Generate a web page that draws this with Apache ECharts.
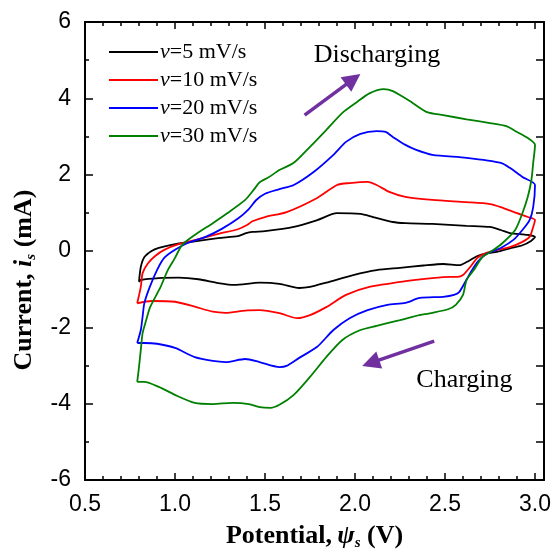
<!DOCTYPE html>
<html><head><meta charset="utf-8">
<script src="https://cdn.jsdelivr.net/npm/echarts@6/dist/echarts.min.js"></script>
<style>html,body{margin:0;padding:0;background:#fff}#c{width:557px;height:558px}</style>
</head><body><div id="c"></div>
<script>
// ---- data (potential V, current mA), loop order: anodic sweep then cathodic sweep ----
const seriesNames = ['v=5 mV/s', 'v=10 mV/s', 'v=20 mV/s', 'v=30 mV/s'];
const seriesColors = ['#000000', '#ff0000', '#0000ff', '#008000'];

const cv5 = [[0.80,-0.81],[0.81,-0.42],[0.83,-0.16],[0.87,0.00],[0.91,0.08],[0.98,0.16],[1.09,0.24],[1.24,0.34],[1.35,0.39],[1.39,0.46],[1.43,0.50],[1.50,0.52],[1.66,0.63],[1.79,0.81],[1.90,0.99],[2.03,0.97],[2.10,0.89],[2.21,0.76],[2.28,0.73],[2.43,0.71],[2.62,0.66],[2.75,0.63],[2.81,0.55],[2.86,0.47],[2.96,0.42],[3.00,0.37],
  [2.98,0.27],[2.93,0.15],[2.86,0.07],[2.79,-0.02],[2.73,-0.06],[2.68,-0.13],[2.62,-0.29],[2.58,-0.37],[2.49,-0.34],[2.38,-0.38],[2.25,-0.44],[2.12,-0.50],[1.99,-0.63],[1.84,-0.83],[1.75,-0.94],[1.69,-0.97],[1.58,-0.86],[1.47,-0.83],[1.33,-0.89],[1.24,-0.84],[1.13,-0.74],[1.02,-0.70],[0.91,-0.71],[0.81,-0.76],[0.80,-0.81]];

const cv10 = [[0.79,-1.37],[0.81,-0.94],[0.82,-0.58],[0.85,-0.32],[0.89,-0.13],[0.94,0.03],[1.02,0.18],[1.13,0.31],[1.24,0.45],[1.35,0.57],[1.40,0.68],[1.43,0.78],[1.50,0.89],[1.62,1.02],[1.79,1.39],[1.90,1.73],[1.97,1.78],[2.07,1.81],[2.12,1.73],[2.19,1.55],[2.28,1.42],[2.43,1.34],[2.62,1.28],[2.75,1.23],[2.81,1.15],[2.90,0.99],[2.96,0.89],[3.00,0.81],
  [2.99,0.63],[2.97,0.37],[2.93,0.24],[2.86,0.10],[2.79,0.03],[2.73,-0.05],[2.68,-0.18],[2.64,-0.42],[2.60,-0.63],[2.57,-0.68],[2.53,-0.68],[2.43,-0.71],[2.28,-0.79],[2.08,-0.94],[1.95,-1.15],[1.84,-1.47],[1.75,-1.68],[1.68,-1.76],[1.58,-1.63],[1.47,-1.55],[1.39,-1.56],[1.28,-1.62],[1.21,-1.59],[1.11,-1.46],[1.00,-1.33],[0.87,-1.31],[0.79,-1.37]];

const cv20 = [[0.79,-2.41],[0.81,-2.07],[0.82,-1.72],[0.83,-1.36],[0.86,-0.94],[0.90,-0.50],[0.94,-0.18],[1.00,0.03],[1.07,0.21],[1.17,0.37],[1.26,0.58],[1.35,0.85],[1.41,1.10],[1.45,1.33],[1.50,1.50],[1.58,1.62],[1.66,1.73],[1.77,2.07],[1.88,2.52],[1.95,2.86],[2.03,3.07],[2.12,3.14],[2.17,3.12],[2.21,2.99],[2.28,2.78],[2.34,2.65],[2.43,2.52],[2.62,2.44],[2.81,2.31],[2.86,2.18],[2.93,1.94],[3.00,1.73],
  [2.99,1.15],[2.97,0.81],[2.93,0.55],[2.88,0.29],[2.81,0.08],[2.73,-0.08],[2.68,-0.29],[2.64,-0.58],[2.58,-1.07],[2.55,-1.15],[2.49,-1.20],[2.36,-1.23],[2.28,-1.36],[2.18,-1.41],[2.07,-1.55],[1.97,-1.76],[1.88,-2.07],[1.79,-2.51],[1.69,-2.80],[1.62,-3.01],[1.58,-3.04],[1.47,-2.91],[1.39,-2.83],[1.28,-2.91],[1.21,-2.88],[1.11,-2.78],[1.00,-2.54],[0.90,-2.43],[0.83,-2.41],[0.79,-2.41]];

const cv30 = [[0.79,-3.43],[0.80,-3.04],[0.81,-2.59],[0.82,-2.15],[0.84,-1.81],[0.86,-1.49],[0.88,-1.30],[0.92,-0.94],[0.96,-0.50],[1.00,-0.18],[1.04,0.16],[1.11,0.42],[1.21,0.73],[1.29,0.99],[1.39,1.34],[1.44,1.62],[1.47,1.80],[1.52,1.93],[1.58,2.12],[1.66,2.31],[1.75,2.73],[1.84,3.17],[1.93,3.62],[2.01,3.90],[2.08,4.13],[2.16,4.24],[2.21,4.19],[2.28,4.00],[2.32,3.88],[2.40,3.64],[2.49,3.56],[2.62,3.45],[2.75,3.35],[2.84,3.27],[2.90,3.12],[2.96,2.96],[3.00,2.78],
  [2.99,2.31],[2.98,1.86],[2.96,1.42],[2.93,0.99],[2.89,0.55],[2.82,0.21],[2.77,0.03],[2.71,-0.15],[2.66,-0.50],[2.62,-0.76],[2.60,-1.15],[2.56,-1.41],[2.52,-1.52],[2.43,-1.62],[2.34,-1.70],[2.25,-1.81],[2.12,-1.96],[2.03,-2.07],[1.93,-2.33],[1.84,-2.78],[1.75,-3.30],[1.66,-3.77],[1.58,-4.03],[1.53,-4.11],[1.47,-4.09],[1.41,-4.01],[1.32,-3.98],[1.21,-4.01],[1.11,-3.98],[1.00,-3.77],[0.91,-3.56],[0.83,-3.43],[0.79,-3.43]];

const seriesData = [cv5, cv10, cv20, cv30];

// axis ranges / ticks
const xRange = [0.5, 3.05];
const xMajor = 0.5, xMinor = 0.1;
const yRange = [-6, 6];
const yMajor = 2, yMinor = 1;

// annotations (data coordinates)
const labels = [
  {text: 'Discharging', at: [2.122, 5.13]},
  {text: 'Charging', at: [2.608, -3.38]}
];
const arrows = [
  {from: [1.72, 3.56], to: [2.03, 4.64]},
  {from: [2.44, -2.36], to: [2.04, -3.01]}
];

// ---- chart ----
const SERIF = 'Liberation Serif, Times New Roman, serif';
const SANS = 'Liberation Sans, Arial, sans-serif';
const chart = echarts.init(document.getElementById('c'), null, {renderer: 'canvas'});
const isMajorX = v => Math.abs(v / xMajor - Math.round(v / xMajor)) < 1e-6;

const lineAxis = {show: true, onZero: false, lineStyle: {color: '#000', width: 2}};
const noLine = {show: false, onZero: false};
const tickStyle = {color: '#000', width: 1.5};

const xBase = {type: 'value', min: xRange[0], max: xRange[1], splitLine: {show: false}};
const yBase = {type: 'value', min: yRange[0], max: yRange[1], splitLine: {show: false}};

const titleRich = {
  b: {fontFamily: SERIF, fontWeight: 'bold', fontSize: 26, color: '#000', lineHeight: 30},
  bi: {fontFamily: SERIF, fontWeight: 'bold', fontStyle: 'italic', fontSize: 26, color: '#000', lineHeight: 30},
  sub: {fontFamily: SERIF, fontWeight: 'bold', fontStyle: 'italic', fontSize: 15, color: '#000', lineHeight: 14, verticalAlign: 'bottom'}
};

const option = {
  animation: false,
  backgroundColor: '#fff',
  grid: {left: 85, right: 13, top: 22, bottom: 78, containLabel: false},
  legend: {
    orient: 'vertical', left: 104, top: 36, itemWidth: 49, itemHeight: 14, itemGap: 6,
    icon: 'path://M0,6 L49,6 L49,8 L0,8 Z',
    data: seriesNames,
    formatter: n => '{i|v}{t|' + n.slice(1) + '}',
    textStyle: {
      color: '#000', fontFamily: SERIF, fontSize: 22, padding: [0, 0, 0, -3],
      rich: {i: {fontFamily: SERIF, fontStyle: 'italic', fontSize: 22, color: '#000'},
             t: {fontFamily: SERIF, fontSize: 22, color: '#000'}}
    }
  },
  xAxis: [
    Object.assign({}, xBase, {
      position: 'bottom', interval: xMajor,
      axisLine: lineAxis,
      axisTick: {show: true, inside: true, length: 7, lineStyle: tickStyle},
      axisLabel: {show: true, margin: 13, color: '#000', fontFamily: SANS, fontSize: 23,
        formatter: v => isMajorX(v) ? v.toFixed(1) : ''},
      name: '{b|Potential,\u2009}{bi|ψ}{sub|s}{b| (V)}', nameLocation: 'middle', nameGap: 41,
      nameTextStyle: {rich: titleRich}
    }),
    Object.assign({}, xBase, {
      position: 'bottom', interval: xMinor, axisLine: noLine,
      axisTick: {show: true, inside: true, length: 4, lineStyle: tickStyle},
      axisLabel: {show: false}
    }),
    Object.assign({}, xBase, {
      position: 'top', interval: xMajor, axisLine: lineAxis,
      axisTick: {show: true, inside: true, length: 7, lineStyle: tickStyle},
      axisLabel: {show: false}
    }),
    Object.assign({}, xBase, {
      position: 'top', interval: xMinor, axisLine: noLine,
      axisTick: {show: true, inside: true, length: 4, lineStyle: tickStyle},
      axisLabel: {show: false}
    })
  ],
  yAxis: [
    Object.assign({}, yBase, {
      position: 'left', interval: yMajor, axisLine: lineAxis,
      axisTick: {show: true, inside: true, length: 8, lineStyle: tickStyle},
      axisLabel: {show: true, margin: 14, color: '#000', fontFamily: SANS, fontSize: 23},
      name: '{b|Current, }{bi|i}{sub|s}{b| (mA)}', nameLocation: 'middle', nameGap: 46,
      nameTextStyle: {padding: [0, 58, 0, 0], rich: titleRich}
    }),
    Object.assign({}, yBase, {
      position: 'left', interval: yMinor, axisLine: noLine,
      axisTick: {show: true, inside: true, length: 4, lineStyle: tickStyle},
      axisLabel: {show: false}
    }),
    Object.assign({}, yBase, {
      position: 'right', interval: yMinor, axisLine: lineAxis,
      axisTick: {show: true, inside: true, length: 8, lineStyle: tickStyle},
      axisLabel: {show: false}
    })
  ],
  series: seriesData.map((d, i) => ({
    name: seriesNames[i], type: 'line', data: d, xAxisIndex: 0, yAxisIndex: 0,
    showSymbol: false, symbol: 'none', smooth: 0.25, clip: true,
    lineStyle: {color: seriesColors[i], width: 1.8}, itemStyle: {color: seriesColors[i]},
    z: 2 + i
  }))
};
chart.setOption(option);

// annotations positioned through the chart's own coordinate conversion
function buildGraphics() {
  const g = [];
  labels.forEach(l => {
    const p = chart.convertToPixel({xAxisIndex: 0, yAxisIndex: 0}, l.at);
    g.push({type: 'text', x: p[0], y: p[1], style: {text: l.text, fill: '#000',
      font: '26px ' + SERIF, align: 'center', verticalAlign: 'middle'}});
  });
  arrows.forEach(a => {
    const p0 = chart.convertToPixel({xAxisIndex: 0, yAxisIndex: 0}, a.from);
    const p1 = chart.convertToPixel({xAxisIndex: 0, yAxisIndex: 0}, a.to);
    const dx = p1[0] - p0[0], dy = p1[1] - p0[1];
    const L = Math.hypot(dx, dy), ux = dx / L, uy = dy / L;
    const hl = 18, hw = 9;
    const bx = p1[0] - ux * hl, by = p1[1] - uy * hl;
    g.push({type: 'line', shape: {x1: p0[0], y1: p0[1], x2: bx + ux * 2, y2: by + uy * 2},
      style: {stroke: '#7030a0', lineWidth: 3.5}});
    g.push({type: 'polygon', shape: {points: [[p1[0], p1[1]], [bx - uy * hw, by + ux * hw], [bx + uy * hw, by - ux * hw]]},
      style: {fill: '#7030a0'}});
  });
  return g;
}
chart.setOption({graphic: buildGraphics()});
</script>
</body></html>
